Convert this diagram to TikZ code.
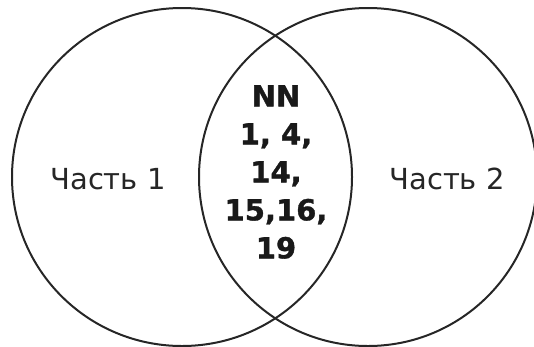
\documentclass[tikz,border=0pt]{standalone}
\usepackage{fontspec}
\setmainfont{DejaVu Sans}
\newfontfamily\heavyfont[FakeBold=1.2]{DejaVu Sans Bold}
\begin{document}
\begin{tikzpicture}[x=1pt,y=-1pt,
  ring/.style={draw=black!85,line width=2pt},
  lbl/.style={font=\fontsize{29}{35}\selectfont,text=black!85},
  mid/.style={font=\heavyfont\fontsize{29}{38}\selectfont,text=black!90,align=center}]
\useasboundingbox (0,0) rectangle (534,346);
\draw[ring] (182,177) ellipse [x radius=170, y radius=169];
\draw[ring] (368,177) ellipse [x radius=169, y radius=169];
\node[lbl] (p1) at (108,179) {Часть 1};
\node[lbl] (p2) at (447,179) {Часть 2};
\node[mid] (c) at (276,172) {NN\\1, 4,\\14,\\15,16,\\19};
\end{tikzpicture}
\end{document}
